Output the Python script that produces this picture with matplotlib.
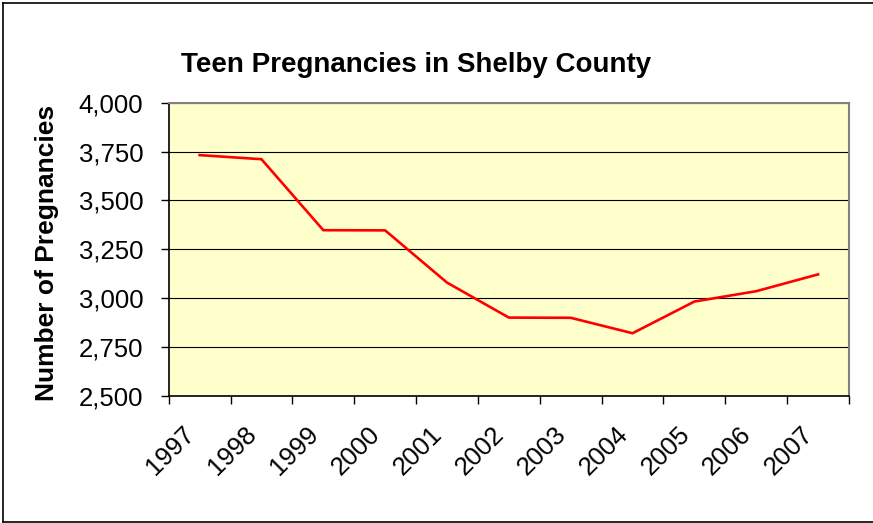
import matplotlib
matplotlib.use("Agg")
import matplotlib.pyplot as plt
from matplotlib.lines import Line2D
from matplotlib.ticker import FixedLocator, FuncFormatter
from matplotlib.transforms import ScaledTranslation

plt.rcParams['font.family'] = ['Liberation Sans', 'DejaVu Sans']

years = ['1997', '1998', '1999', '2000', '2001', '2002',
         '2003', '2004', '2005', '2006', '2007']
pregnancies = [3732, 3711, 3348, 3347, 3080, 2901, 2900, 2821, 2983, 3036, 3122]
y_ticks = [2500, 2750, 3000, 3250, 3500, 3750, 4000]

W, H = 873, 523
fig = plt.figure(figsize=(W / 100, H / 100), dpi=100)
ax = fig.add_axes([168.7 / W, 1 - 396 / H, (849 - 168.7) / W, (396 - 102.7) / H])
ax.set_facecolor('#FFFFCC')

x = list(range(len(years)))
ax.plot(x, pregnancies, color='#FF0000', lw=1.9, solid_joinstyle='miter', zorder=3)

ax.set_xlim(-0.5, len(years) - 0.5)
ax.set_ylim(2500, 4000)
ax.set_yticks(y_ticks)
ax.yaxis.set_major_formatter(FuncFormatter(lambda v, p: f'{int(v):,}'))
ax.grid(axis='y', color='black', lw=0.8, zorder=1)

ax.set_xticks(x)
ax.set_xticklabels(years, rotation=45, ha='right', va='top', fontsize=18.5)
shift = ScaledTranslation(-7 / 100, 0, fig.dpi_scale_trans)
for lbl in ax.get_xticklabels():
    lbl.set_transform(lbl.get_transform() + shift)
ax.xaxis.set_minor_locator(FixedLocator([i - 0.5 for i in range(len(years) + 1)]))
ax.tick_params(axis='x', which='major', length=0, pad=19)
ax.tick_params(axis='x', which='minor', length=5.8, width=1, color='black', direction='out')
ax.tick_params(axis='y', length=5.8, width=1, color='black', pad=12.5, labelsize=18.5)

for side in ['top', 'right']:
    ax.spines[side].set_color('#808080')
    ax.spines[side].set_linewidth(1.5)
for side in ['left', 'bottom']:
    ax.spines[side].set_color('black')
    ax.spines[side].set_linewidth(1.2)

fig.text(416 / W, 1 - 72 / H, 'Teen Pregnancies in Shelby County',
         ha='center', va='baseline', fontsize=20, fontweight='bold')
fig.text(47 / W, 1 - 253 / H, 'Number of Pregnancies', rotation=90,
         ha='center', va='center', fontsize=19, fontweight='bold')

# outer chart border (left, top, bottom)
for xs, ys in [([2.5, 2.5], [3, 521.5]), ([2.5, W + 5], [3, 3]), ([2.5, W + 5], [521.5, 521.5])]:
    fig.add_artist(Line2D([v / W for v in xs], [1 - v / H for v in ys],
                          transform=fig.transFigure, color='black', lw=1.2))

fig.savefig('out.png', dpi=100)
